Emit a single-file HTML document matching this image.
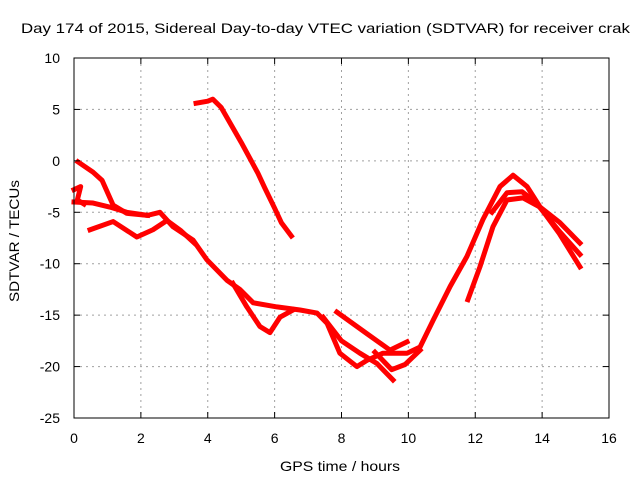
<!DOCTYPE html>
<html><head><meta charset="utf-8"><style>
body{margin:0;background:#fff}
svg text{font-family:"Liberation Sans",sans-serif;font-size:14px;fill:#000}
</style></head><body>
<svg id="chart" width="640" height="480" xmlns="http://www.w3.org/2000/svg">
<rect width="640" height="480" fill="#fff"/>
<g id="grid"></g>
<g id="series"></g>
<g id="axes"></g>
<text x="21" y="33" textLength="609" lengthAdjust="spacingAndGlyphs">Day 174 of 2015, Sidereal Day-to-day VTEC variation (SDTVAR) for receiver crak</text>
<text x="280" y="471" textLength="120" lengthAdjust="spacingAndGlyphs">GPS time / hours</text>
<text transform="translate(19,302) rotate(-90)" textLength="122" lengthAdjust="spacingAndGlyphs">SDTVAR / TECUs</text>
</svg>
<script>
const xTicks=[0,2,4,6,8,10,12,14,16];
const yTicks=[10,5,0,-5,-10,-15,-20,-25];
const seriesA=[[3.65,5.6],[4.0,5.8],[4.15,6.0],[4.4,5.2],[4.7,3.5],[5.0,1.8],[5.3,0],[5.5,-1.2],[5.7,-2.6],[6.0,-4.6],[6.2,-6.0],[6.5,-7.3]];
const seriesB=[[0.12,-0.1],[0.57,-1.1],[0.84,-1.9],[1.17,-4.3],[1.58,-5.1],[2.2,-5.3]];
const seriesC=[[0,-4.0],[0.57,-4.1],[1.08,-4.5],[1.58,-5.0],[2.2,-5.3],[2.57,-5.0],[2.96,-6.4],[3.56,-7.7],[3.97,-9.6],[4.57,-11.6],[4.96,-12.5],[5.36,-13.8],[6.07,-14.2],[6.76,-14.5],[7.27,-14.8],[7.57,-15.8],[7.95,-18.7],[8.46,-20.0],[8.76,-19.4],[9.24,-18.7],[9.96,-18.7],[10.35,-18.1],[10.74,-15.5],[11.25,-12.2],[11.75,-9.3],[12.23,-5.7],[12.74,-2.5],[13.13,-1.4],[13.55,-2.5],[13.94,-4.5],[14.53,-6.0],[15.13,-8.0]];
const seriesD=[[0.48,-6.7],[1.17,-5.9],[1.88,-7.4],[2.36,-6.7],[2.78,-5.8],[3.2,-6.8],[3.6,-8.0]];
const seriesE=[[4.75,-11.9],[5.17,-14.2],[5.56,-16.1],[5.86,-16.7],[6.16,-15.2],[6.55,-14.5]];
const seriesF=[[7.86,-14.7],[8.76,-16.8],[9.45,-18.4],[9.96,-17.6]];
const seriesG=[[7.45,-15.2],[8.0,-17.5],[8.55,-18.7],[9.06,-19.7],[9.54,-21.3]];
const seriesH=[[11.78,-13.5],[12.14,-10.3],[12.53,-6.4],[12.95,-3.8],[13.43,-3.6],[13.94,-4.5],[14.5,-7.0],[15.13,-10.3]];
const seriesI=[[12.5,-5.0],[12.95,-3.1],[13.4,-3.0],[13.8,-4.0],[14.5,-6.8],[15.13,-9.1]];
const seriesJ=[[0,-2.8],[0.2,-2.5],[0.1,-3.8],[0.3,-4.2]];
const seriesK=[[9.0,-18.6],[9.5,-20.3],[9.9,-19.8],[10.35,-18.4]];
const allSeries=[seriesA,seriesB,seriesC,seriesD,seriesE,seriesF,seriesG,seriesH,seriesI,seriesJ,seriesK];
const X0=74,X1=609,Y0=58,Y1=418;
function xs(h){return X0+(h-0)/(16-0)*(X1-X0);}
function ys(v){return Y0+(10-v)/(10-(-25))*(Y1-Y0);}
const NS="http://www.w3.org/2000/svg";
function mk(tag,attrs,parent){const e=document.createElementNS(NS,tag);for(const k in attrs)e.setAttribute(k,attrs[k]);parent.appendChild(e);return e;}
const grid=document.getElementById('grid'),axes=document.getElementById('axes'),ser=document.getElementById('series');
xTicks.forEach(t=>{const x=xs(t);
 if(t>0&&t<16){const l=mk('line',{x1:x,x2:x,y1:Y0,y2:Y1,stroke:'#a0a0a0','stroke-dasharray':'2,4'},grid);
 
 }
 mk('line',{x1:x,x2:x,y1:Y1,y2:Y1-6,stroke:'#000'},axes);
 mk('line',{x1:x,x2:x,y1:Y0,y2:Y0+6,stroke:'#000'},axes);
 const tx=mk('text',{x:x,y:Y1+25,'text-anchor':'middle'},axes);tx.textContent=t;
 
 
});
yTicks.forEach(t=>{const y=ys(t);
 if(t<10&&t>-25){const l=mk('line',{x1:X0,x2:X1,y1:y,y2:y,stroke:'#a0a0a0','stroke-dasharray':'2,4'},grid);
 
 }
 mk('line',{x1:X0,x2:X0+6,y1:y,y2:y,stroke:'#000'},axes);
 mk('line',{x1:X1,x2:X1-6,y1:y,y2:y,stroke:'#000'},axes);
 const tx=mk('text',{x:X0-14,y:y+5,'text-anchor':'end'},axes);tx.textContent=t;
 
 
});
const b=mk('rect',{x:X0,y:Y0,width:X1-X0,height:Y1-Y0,fill:'none',stroke:'#000'},axes);


allSeries.forEach((s,i)=>{
 const p=mk('polyline',{points:s.map(d=>xs(d[0])+','+ys(d[1])).join(' '),fill:'none',stroke:'#ff0000','stroke-width':5,'stroke-linejoin':'round','stroke-linecap':'square'},ser);
 
 
});
</script>
</body></html>
